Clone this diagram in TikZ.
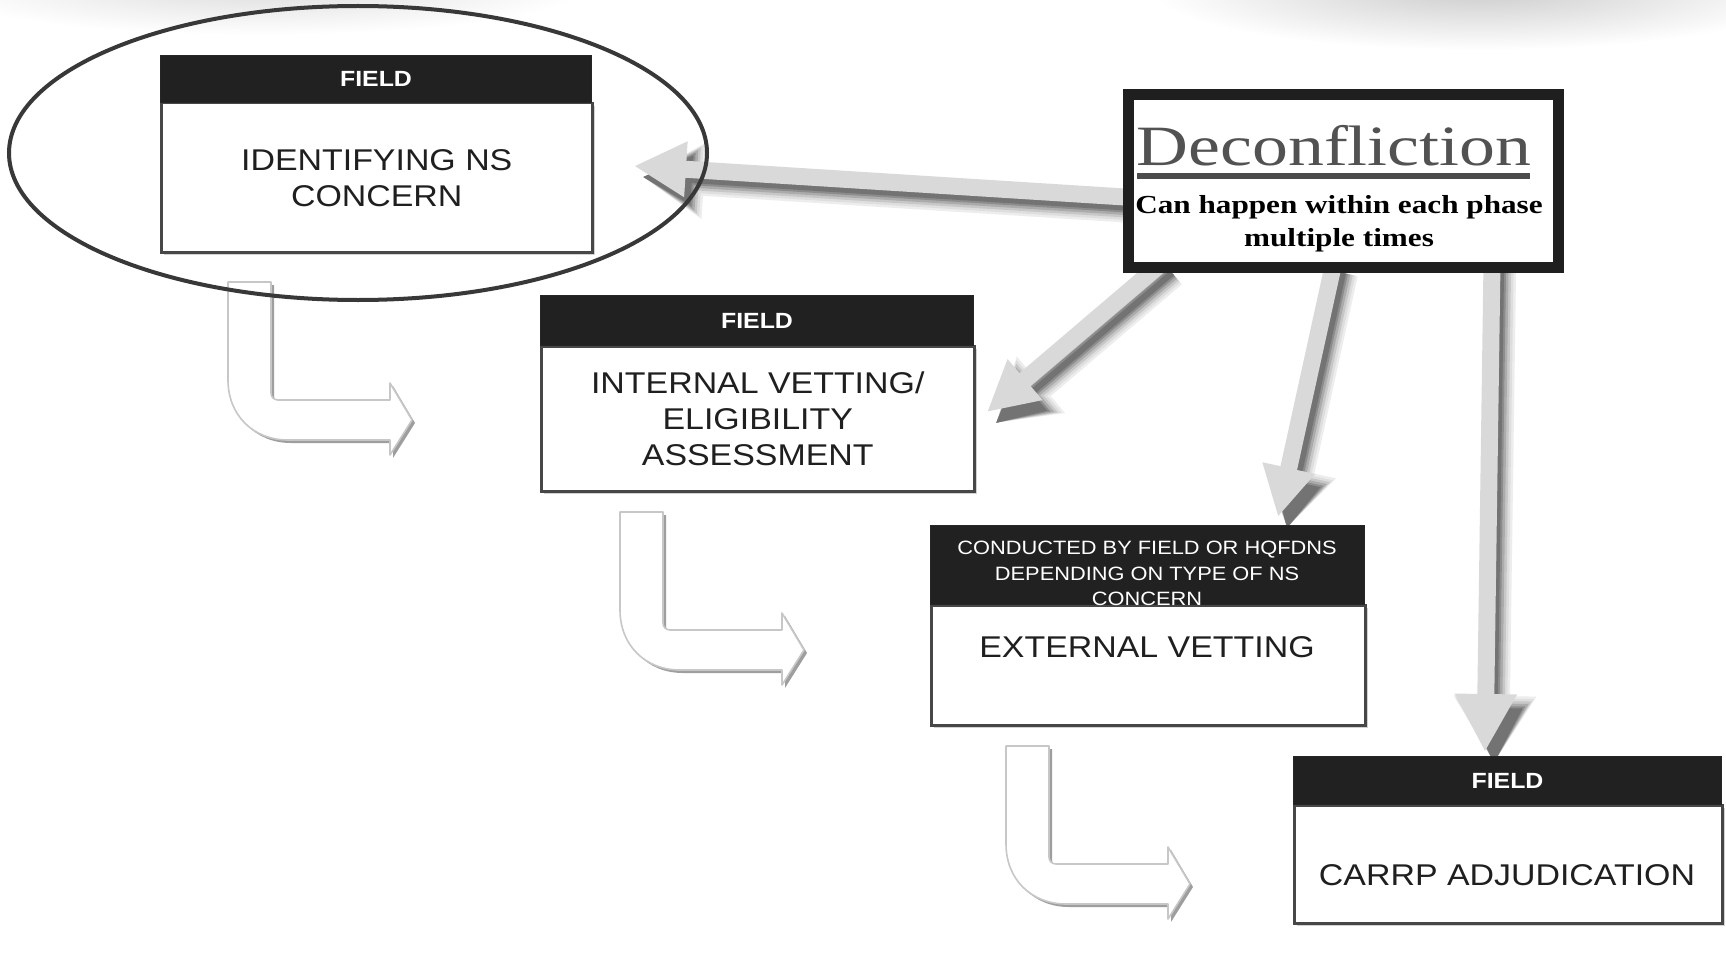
\documentclass[tikz,border=0pt]{standalone}
\usepackage{fontspec}
\newfontfamily\sansw[FakeStretch=1.13]{Liberation Sans}
\newfontfamily\serifw[FakeStretch=1.2]{Liberation Serif}
\newfontfamily\serifdec[FakeStretch=1.26]{Liberation Serif}
\usetikzlibrary{arrows.meta,shadows}
\newcommand\lbend[1]{%
  \begin{scope}[shift={#1}]
    \path[fill=black!38] (3,3) -- (3,101) .. controls (3,136) and (28,161) .. (63,161) -- (165,161) -- (165,176) -- (187,141) -- (165,104) -- (165,121) -- (53,121) .. controls (49,121) and (46,118) .. (46,114) -- (46,3) -- cycle;
    \draw[lshape] (0,0) -- (0,98) .. controls (0,133) and (25,158) .. (60,158) -- (162,158) -- (162,173) -- (184,138) -- (162,101) -- (162,118) -- (50,118) .. controls (46,118) and (43,115) .. (43,111) -- (43,0) -- cycle;
  \end{scope}}
% grey arrow with soft shadow: #1 head size, #2 start, #3 end
\newcommand\garr[3]{%
  \foreach \lw/\col in {30/7,25/13,20/22,15/33,10/45,6/55}{
    \pgfmathsetmacro\hw{#1+\lw-10}
    \pgfmathsetmacro\hl{#1+\lw*0.5-6}
    \draw[draw=black!\col, line width=\lw pt,
      -{Triangle[width=\hw,length=\hl]},
      transform canvas={shift={(9pt,-11pt)}}] (#2) -- (#3);
  }
  \draw[garrow, -{Triangle[width=#1,length=#1]}] (#2) -- (#3);
}
\begin{document}
\begin{tikzpicture}[x=1pt,y=-1pt,
  lshape/.style={fill=white, draw=black!22, line width=1.6pt, line join=round},
  hdr/.style={draw=black!85, fill=black!87, text=white, font=\sansw\bfseries\fontsize{22}{26}\selectfont, anchor=north west, inner sep=0pt, line width=1pt},
  bdy/.style={draw=black!72, fill=white, line width=2.5pt, font=\sansw\fontsize{30}{36}\selectfont, align=center, anchor=north west, inner sep=0pt, text=black!88, drop shadow={shadow xshift=3pt,shadow yshift=-3pt,opacity=.35}},
  hdrtxt/.style={text=white, font=\sansw\fontsize{19.3}{25.5}\selectfont, align=center, inner sep=0pt},
  garrow/.style={draw=black!15, line width=17pt},
  dlabel/.style={anchor=base, inner sep=0pt}
]
\useasboundingbox (0,0) rectangle (1726,955);
\fill[white] (0,0) rectangle (1726,955);
% faint watermark at top
\shade[inner color=black!14, outer color=white] (260,-15) ellipse [x radius=330pt, y radius=50pt];
\shade[inner color=black!20, outer color=white] (1480,-10) ellipse [x radius=330pt, y radius=60pt];

% hollow L arrows
\lbend{(228,282)}
\lbend{(620,512)}
\lbend{(1006,746)}

% connector end points
\coordinate (sA) at (1125,197);
\coordinate (tA) at (634,166);
\coordinate (sB) at (1163,262);
\coordinate (tB) at (987,412);
\coordinate (sC) at (1334,262);
\coordinate (tC) at (1278,517);
\coordinate (sD) at (1492,262);
\coordinate (tD) at (1485,752);

% grey arrows
\garr{52}{sA}{tA}
\garr{50}{sB}{tB}
\garr{50}{sC}{tC}
\garr{58}{sD}{tD}

% boxes
\node[bdy, minimum width=431pt, minimum height=149pt] (b1) at (160,102) {IDENTIFYING NS\\CONCERN};
\node[hdr, minimum width=431pt, minimum height=47pt] (h1) at (160,55) {FIELD};

\node[bdy, minimum width=433pt, minimum height=145pt] (b2) at (540,345) {INTERNAL VETTING/\\ELIGIBILITY\\ASSESSMENT};
\node[hdr, minimum width=433pt, minimum height=50pt] (h2) at (540,295) {FIELD};

\node[bdy, minimum width=434pt, minimum height=120pt] (b3) at (930,604) {};
\node[font=\sansw\fontsize{30}{36}\selectfont, text=black!88, inner sep=0pt] (t3) at (1147,647) {EXTERNAL VETTING};
\node[hdr, minimum width=434pt, minimum height=79pt] (h3) at (930,525) {};
\node[hdrtxt, anchor=north] (ht3) at (1147,541) {CONDUCTED BY FIELD OR HQFDNS\\DEPENDING ON TYPE OF NS\\CONCERN};

\node[bdy, minimum width=428pt, minimum height=118pt] (b4) at (1293,804) {};
\node[font=\sansw\fontsize{30}{36}\selectfont, text=black!88, inner sep=0pt] (t4) at (1507,875) {CARRP ADJUDICATION};
\node[hdr, minimum width=428pt, minimum height=48pt] (h4) at (1293,756) {FIELD};

% deconfliction box
\node[draw=black!88, fill=white, line width=11pt, minimum width=430pt, minimum height=172pt, anchor=north west, inner sep=0pt] (dec) at (1122.5,89.5) {};
\node[dlabel, font=\serifdec\fontsize{57}{57}\selectfont, text=black!68] (dt) at (1334,165) {Deconfliction};
\draw[line width=6pt, black!70] (1137,176) -- (1530,176);
\node[dlabel, font=\serifw\bfseries\fontsize{26}{32}\selectfont] (d1) at (1339,213) {Can happen within each phase};
\node[dlabel, font=\serifw\bfseries\fontsize{26}{32}\selectfont] (d2) at (1339,246) {multiple times};

% highlight ellipse
\draw[line width=4pt, black!78] (358,153) ellipse [x radius=349pt, y radius=147pt];
\end{tikzpicture}
\end{document}
